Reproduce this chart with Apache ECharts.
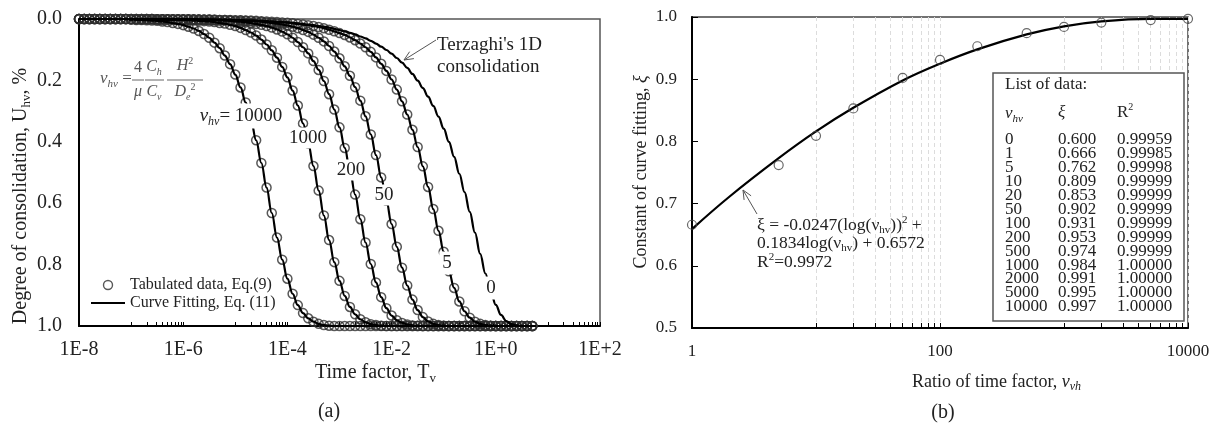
<!DOCTYPE html>
<html>
<head>
<meta charset="utf-8">
<title>Consolidation curves and curve fitting constant</title>
<script src="https://cdn.jsdelivr.net/npm/echarts@6/dist/echarts.min.js"></script>
<style>
html, body { margin: 0; padding: 0; background: #fff; }
#chart { width: 1220px; height: 426px; }
</style>
</head>
<body>
<div id="chart"></div>
<script>
// log10 of time factor Tv for the tabulated points (chart a)
var tvExp = [
    -8, -7.9, -7.8, -7.7, -7.6, -7.5, -7.4, -7.3, -7.2, -7.1,
    -7, -6.9, -6.8, -6.7, -6.6, -6.5, -6.4, -6.3, -6.2, -6.1,
    -6, -5.9, -5.8, -5.7, -5.6, -5.5, -5.4, -5.3, -5.2, -5.1,
    -5, -4.9, -4.8, -4.7, -4.6, -4.5, -4.4, -4.3, -4.2, -4.1,
    -4, -3.9, -3.8, -3.7, -3.6, -3.5, -3.4, -3.3, -3.2, -3.1,
    -3, -2.9, -2.8, -2.7, -2.6, -2.5, -2.4, -2.3, -2.2, -2.1,
    -2, -1.9, -1.8, -1.7, -1.6, -1.5, -1.4, -1.3, -1.2, -1.1,
    -1, -0.9, -0.8, -0.7, -0.6, -0.5, -0.4, -0.3, -0.2, -0.1,
    0, 0.1, 0.2, 0.3, 0.4, 0.5, 0.6, 0.7
];
// degree of consolidation Uhv
var u10000 = [
    0, 0, 0, 0, 0, 0, 0, 0, 0, 0,
    0.002, 0.003, 0.003, 0.004, 0.005, 0.006, 0.008, 0.010, 0.013, 0.016,
    0.020, 0.025, 0.031, 0.039, 0.049, 0.061, 0.077, 0.095, 0.119, 0.147,
    0.181, 0.223, 0.272, 0.329, 0.395, 0.469, 0.549, 0.632, 0.712, 0.784,
    0.846, 0.895, 0.932, 0.958, 0.975, 0.986, 0.993, 0.997, 0.999, 1,
    1, 1, 1, 1, 1, 1, 1, 1, 1, 1,
    1, 1, 1, 1, 1, 1, 1, 1, 1, 1,
    1, 1, 1, 1, 1, 1, 1, 1, 1, 1,
    1, 1, 1, 1, 1, 1, 1, 1
];
var u1000 = [
    0, 0, 0, 0, 0, 0, 0, 0, 0, 0,
    0.001, 0.001, 0.001, 0.001, 0.001, 0.002, 0.002, 0.002, 0.003, 0.003,
    0.003, 0.004, 0.005, 0.006, 0.007, 0.008, 0.010, 0.013, 0.015, 0.019,
    0.023, 0.029, 0.036, 0.044, 0.054, 0.067, 0.083, 0.102, 0.126, 0.156,
    0.190, 0.233, 0.282, 0.340, 0.406, 0.479, 0.559, 0.640, 0.720, 0.792,
    0.853, 0.902, 0.938, 0.962, 0.978, 0.988, 0.994, 0.997, 0.999, 1,
    1, 1, 1, 1, 1, 1, 1, 1, 1, 1,
    1, 1, 1, 1, 1, 1, 1, 1, 1, 1,
    1, 1, 1, 1, 1, 1, 1, 1
];
var u200 = [
    0, 0, 0, 0, 0, 0, 0, 0, 0, 0,
    0, 0, 0, 0, 0, 0.001, 0.001, 0.001, 0.001, 0.001,
    0.002, 0.002, 0.002, 0.002, 0.003, 0.003, 0.004, 0.005, 0.005, 0.006,
    0.008, 0.009, 0.011, 0.013, 0.016, 0.019, 0.023, 0.028, 0.034, 0.041,
    0.050, 0.061, 0.075, 0.092, 0.112, 0.137, 0.166, 0.202, 0.245, 0.295,
    0.353, 0.420, 0.493, 0.572, 0.652, 0.728, 0.798, 0.858, 0.906, 0.942,
    0.966, 0.981, 0.990, 0.995, 0.998, 0.999, 1, 1, 1, 1,
    1, 1, 1, 1, 1, 1, 1, 1, 1, 1,
    1, 1, 1, 1, 1, 1, 1, 1
];
var u50 = [
    0, 0, 0, 0, 0, 0, 0, 0, 0, 0,
    0, 0, 0, 0, 0, 0.001, 0.001, 0.001, 0.001, 0.001,
    0.001, 0.001, 0.002, 0.002, 0.002, 0.002, 0.003, 0.003, 0.003, 0.004,
    0.005, 0.005, 0.006, 0.007, 0.008, 0.009, 0.011, 0.013, 0.015, 0.018,
    0.021, 0.025, 0.030, 0.036, 0.042, 0.051, 0.061, 0.073, 0.088, 0.106,
    0.128, 0.154, 0.185, 0.222, 0.266, 0.317, 0.376, 0.443, 0.516, 0.592,
    0.668, 0.742, 0.810, 0.868, 0.914, 0.948, 0.971, 0.985, 0.993, 0.997,
    0.999, 1, 1, 1, 1, 1, 1, 1, 1, 1,
    1, 1, 1, 1, 1, 1, 1, 1
];
var u5 = [
    0, 0, 0, 0, 0, 0, 0, 0, 0, 0,
    0, 0, 0, 0, 0, 0.001, 0.001, 0.001, 0.001, 0.001,
    0.001, 0.001, 0.001, 0.002, 0.002, 0.002, 0.002, 0.003, 0.003, 0.003,
    0.004, 0.004, 0.005, 0.005, 0.006, 0.007, 0.008, 0.009, 0.010, 0.011,
    0.012, 0.014, 0.016, 0.018, 0.020, 0.023, 0.026, 0.030, 0.035, 0.040,
    0.046, 0.052, 0.060, 0.069, 0.080, 0.092, 0.107, 0.125, 0.146, 0.169,
    0.197, 0.230, 0.268, 0.311, 0.361, 0.417, 0.480, 0.547, 0.619, 0.690,
    0.758, 0.822, 0.876, 0.920, 0.952, 0.973, 0.986, 0.993, 0.997, 0.999,
    1, 1, 1, 1, 1, 1, 1, 1
];
// Terzaghi 1D (vhv = 0), line only
var uTerzaghi = [
    0, 0, 0, 0, 0, 0, 0, 0, 0, 0,
    0, 0, 0, 0, 0, 0.001, 0.001, 0.001, 0.001, 0.001,
    0.001, 0.001, 0.001, 0.002, 0.002, 0.002, 0.002, 0.003, 0.003, 0.003,
    0.004, 0.004, 0.005, 0.005, 0.006, 0.006, 0.007, 0.008, 0.009, 0.010,
    0.011, 0.013, 0.014, 0.016, 0.018, 0.020, 0.023, 0.025, 0.028, 0.032,
    0.036, 0.040, 0.045, 0.050, 0.057, 0.063, 0.071, 0.080, 0.090, 0.101,
    0.113, 0.127, 0.142, 0.159, 0.179, 0.201, 0.225, 0.253, 0.283, 0.318,
    0.357, 0.400, 0.449, 0.504, 0.564, 0.628, 0.696, 0.765, 0.829, 0.886,
    0.931, 0.964, 0.984, 0.994, 0.998, 1, 1, 1
];
var leftLabelValues = [1e-8, 1e-6, 1e-4, 1e-2, 1, 100];

// chart b: list of data
var vhvList = [0, 1, 5, 10, 20, 50, 100, 200, 500, 1000, 2000, 5000, 10000];
var xiList = [0.600, 0.666, 0.762, 0.809, 0.853, 0.902, 0.931, 0.953, 0.974, 0.984, 0.991, 0.995, 0.997];
var r2List = [0.99959, 0.99985, 0.99998, 0.99999, 0.99999, 0.99999, 0.99999, 0.99999, 0.99999, 1.00000, 1.00000, 1.00000, 1.00000];
// fitted curve
var fitV = [1, 2, 5, 10, 20, 50, 100, 200, 500, 1000, 2000, 5000, 10000];
var fitXi = [0.659, 0.711, 0.773, 0.816, 0.854, 0.898, 0.925, 0.948, 0.972, 0.985, 0.993, 0.997, 0.997];
var rightLabelValues = [1, 100, 10000];

var FONT = "'Liberation Serif', 'DejaVu Serif', serif";
var INK = '#222';
var RING = '#2e2e2e';

// minor ticks in the odd decades, like the original log axis
function oddDecadeTicks(decades) {
    var out = [];
    decades.forEach(function (d) {
        for (var m = 1; m <= 10; m++) {
            out.push(m * Math.pow(10, d));
        }
    });
    return out;
}
var leftTicks = oddDecadeTicks([-7, -5, -3, -1, 1]);
var rightTicks = oddDecadeTicks([1, 3]);

function fmtE(v) {
    var e = Math.round(Math.log(v) / Math.LN10);
    return '1E' + (e < 0 ? '-' : '+') + Math.abs(e);
}

function toPairs(u) {
    return tvExp.map(function (e, i) { return [Math.pow(10, e), u[i]]; });
}

function richSet(size, color) {
    return {
        n: { fontFamily: FONT, fontSize: size, fill: color, lineHeight: size + 4 },
        i: { fontFamily: FONT, fontSize: size, fill: color, fontStyle: 'italic', lineHeight: size + 4 },
        s: { fontFamily: FONT, fontSize: Math.round(size * 0.65), fill: color, verticalAlign: 'bottom', lineHeight: Math.round(size * 0.7) },
        is: { fontFamily: FONT, fontSize: Math.round(size * 0.65), fill: color, fontStyle: 'italic', verticalAlign: 'bottom', lineHeight: Math.round(size * 0.7) },
        p: { fontFamily: FONT, fontSize: Math.round(size * 0.6), fill: color, verticalAlign: 'top', lineHeight: Math.round(size * 0.7) }
    };
}

function text(x, y, str, size, opt) {
    opt = opt || {};
    var color = opt.color || INK;
    var style = {
        text: str,
        rich: richSet(size, color),
        fontFamily: FONT,
        fontSize: size,
        fill: color,
        align: opt.align || 'center',
        verticalAlign: opt.valign || 'middle'
    };
    if (opt.bg) {
        style.backgroundColor = '#fff';
        style.padding = opt.pad || [1, 2];
    }
    if (opt.lineHeight) {
        style.lineHeight = opt.lineHeight;
    }
    return { type: 'text', x: x, y: y, rotation: opt.rotation || 0, z: 100, style: style };
}

function arrow(tip, tail) {
    var dx = tail[0] - tip[0], dy = tail[1] - tip[1];
    var len = Math.sqrt(dx * dx + dy * dy);
    var ux = dx / len, uy = dy / len, a = 0.42, L = 10;
    var p1 = [tip[0] + L * (ux * Math.cos(a) - uy * Math.sin(a)), tip[1] + L * (ux * Math.sin(a) + uy * Math.cos(a))];
    var p2 = [tip[0] + L * (ux * Math.cos(-a) - uy * Math.sin(-a)), tip[1] + L * (ux * Math.sin(-a) + uy * Math.cos(-a))];
    return [
        { type: 'line', z: 100, shape: { x1: tail[0], y1: tail[1], x2: tip[0], y2: tip[1] }, style: { stroke: '#555', lineWidth: 1 } },
        { type: 'polyline', z: 100, shape: { points: [p1, tip, p2] }, style: { stroke: '#555', fill: null, lineWidth: 1 } }
    ];
}

var curves = [
    { name: '10000', u: u10000 },
    { name: '1000', u: u1000 },
    { name: '200', u: u200 },
    { name: '50', u: u50 },
    { name: '5', u: u5 }
];

var series = [];
curves.forEach(function (c) {
    var pts = toPairs(c.u);
    series.push({
        type: 'scatter',
        name: 'Tabulated data, Eq.(9)',
        xAxisIndex: 0, yAxisIndex: 0,
        data: pts,
        symbol: 'circle',
        symbolSize: 9,
        clip: false,
        silent: true,
        itemStyle: { color: 'rgba(0,0,0,0)', borderColor: RING, borderWidth: 1.5 },
        z: 2
    });
    series.push({
        type: 'line',
        name: 'Curve Fitting, Eq. (11)',
        xAxisIndex: 0, yAxisIndex: 0,
        data: pts,
        symbol: 'none',
        smooth: 0.4,
        smoothMonotone: 'x',
        clip: false,
        silent: true,
        itemStyle: { color: '#000' },
        lineStyle: { color: '#000', width: 2.2 },
        z: 3
    });
});
series.push({
    type: 'line',
    name: 'Terzaghi',
    xAxisIndex: 0, yAxisIndex: 0,
    data: toPairs(uTerzaghi),
    symbol: 'none',
    smooth: 0.4,
    smoothMonotone: 'x',
    clip: false,
    silent: true,
    itemStyle: { color: '#000' },
    lineStyle: { color: '#000', width: 2.2 },
    z: 3
});
series.push({
    type: 'line',
    name: 'fit b',
    xAxisIndex: 1, yAxisIndex: 1,
    data: fitV.map(function (v, i) { return [v, fitXi[i]]; }),
    symbol: 'none',
    smooth: 0.4,
    clip: false,
    silent: true,
    itemStyle: { color: '#000' },
    lineStyle: { color: '#000', width: 2.2 },
    z: 3
});
series.push({
    type: 'scatter',
    name: 'xi b',
    xAxisIndex: 1, yAxisIndex: 1,
    data: vhvList.map(function (v, i) { return [v, xiList[i]]; }).filter(function (p) { return p[0] > 0; }),
    symbol: 'circle',
    symbolSize: 9,
    clip: false,
    silent: true,
    itemStyle: { color: 'rgba(0,0,0,0)', borderColor: '#444', borderWidth: 1.2 },
    z: 4
});

// annotations
var graphics = [];
graphics.push(text(21, 196, '{n|Degree of consolidation, U}{s|hv}{n|, %}', 20, { rotation: Math.PI / 2 }));
graphics.push(text(315, 373, '{n|Time factor, T}{s|v}', 20, { align: 'left' }));
graphics.push(text(641, 172, '{n|Constant of curve fitting, }{i|ξ}', 18, { rotation: Math.PI / 2 }));
graphics.push(text(912, 382, '{n|Ratio of time factor, }{i|ν}{is|vh}', 18, { align: 'left' }));
graphics.push(text(329, 412, '(a)', 20));
graphics.push(text(943, 413, '(b)', 20));

// curve labels (white box cuts the curve like the original)
graphics.push(text(241, 116, '{i|ν}{is|hv}{n|= 10000}', 19, { bg: true }));
graphics.push(text(308, 138, '1000', 19, { bg: true }));
graphics.push(text(351, 170, '200', 19, { bg: true }));
graphics.push(text(384, 195, '50', 19, { bg: true }));
graphics.push(text(447, 263, '5', 19, { bg: true, pad: [2, 3] }));
graphics.push(text(491, 288, '0', 19, { bg: true, pad: [2, 4] }));

graphics.push(text(437, 45, "Terzaghi's 1D", 19, { align: 'left' }));
graphics.push(text(437, 67, 'consolidation', 19, { align: 'left' }));
graphics = graphics.concat(arrow([404, 60], [436, 40]));

// vhv definition
var GRAY = '#555';
graphics.push(text(100, 79, '{i|ν}{is|hv}{n| =}', 17, { align: 'left', color: GRAY }));
graphics.push(text(138, 68, '4', 16, { color: GRAY }));
graphics.push(text(138, 92, '{i|μ}', 16, { color: GRAY }));
graphics.push(text(154, 67, '{i|C}{is|h}', 16, { color: GRAY }));
graphics.push(text(154, 92, '{i|C}{is|v}', 16, { color: GRAY }));
graphics.push(text(185, 66, '{i|H}{p|2}', 16, { color: GRAY }));
graphics.push(text(185, 92, '{i|D}{is|e}{p|2}', 16, { color: GRAY }));
[[132, 144], [145, 164], [167, 203]].forEach(function (seg) {
    graphics.push({ type: 'line', z: 100, shape: { x1: seg[0], y1: 80, x2: seg[1], y2: 80 }, style: { stroke: GRAY, lineWidth: 0.9 } });
});

// fitted equation in chart b
graphics.push(text(757, 225, '{n|ξ = -0.0247(log(ν}{s|hv}{n|))}{p|2}{n| +}', 17.5, { align: 'left' }));
graphics.push(text(757, 243, '{n|0.1834log(ν}{s|hv}{n|) + 0.6572}', 17.5, { align: 'left' }));
graphics.push(text(757, 262, '{n|R}{p|2}{n|=0.9972}', 17.5, { align: 'left' }));
graphics = graphics.concat(arrow([743, 190], [757, 214]));

// list of data box
graphics.push({ type: 'rect', z: 90, shape: { x: 993, y: 73, width: 191, height: 248 }, style: { fill: '#fff', stroke: '#555', lineWidth: 1.5 } });
graphics.push(text(1005, 85, 'List of data:', 17, { align: 'left' }));
graphics.push(text(1005, 114, '{i|ν}{is|hv}', 17, { align: 'left' }));
graphics.push(text(1058, 113, '{i|ξ}', 17, { align: 'left' }));
graphics.push(text(1117, 113, '{n|R}{p|2}', 17, { align: 'left' }));
graphics.push(text(1005, 133, vhvList.map(String).join('\n'), 17, { align: 'left', valign: 'top', lineHeight: 13.9 }));
graphics.push(text(1058, 133, xiList.map(function (v) { return v.toFixed(3); }).join('\n'), 17, { align: 'left', valign: 'top', lineHeight: 13.9 }));
graphics.push(text(1117, 133, r2List.map(function (v) { return v.toFixed(5); }).join('\n'), 17, { align: 'left', valign: 'top', lineHeight: 13.9 }));

var axisLine = { onZero: false, lineStyle: { color: '#000', width: 2 } };

var option = {
    animation: false,
    backgroundColor: '#fff',
    grid: [
        { left: 79, top: 19, right: 620, bottom: 100, containLabel: false, outerBoundsMode: 'none', show: true, borderColor: '#555', borderWidth: 1.5, backgroundColor: 'transparent' },
        { left: 692, top: 17, right: 32, bottom: 98, containLabel: false, outerBoundsMode: 'none', show: true, borderColor: '#444', borderWidth: 1.5, backgroundColor: 'transparent' }
    ],
    legend: {
        left: 86,
        top: 272,
        orient: 'vertical',
        itemWidth: 34,
        itemHeight: 9,
        itemGap: 2,
        selectedMode: false,
        textStyle: { fontFamily: FONT, fontSize: 16, color: INK, lineHeight: 16 },
        data: [
            { name: 'Tabulated data, Eq.(9)', icon: 'circle', itemStyle: { color: 'rgba(0,0,0,0)', borderColor: RING, borderWidth: 1.4 } },
            { name: 'Curve Fitting, Eq. (11)', icon: 'path://M0,0L34,0L34,2.2L0,2.2Z', itemStyle: { color: '#000', borderWidth: 0 } }
        ]
    },
    xAxis: [
        {
            gridIndex: 0,
            type: 'log',
            logBase: 10,
            min: 1e-8,
            max: 100,
            axisLine: axisLine,
            axisTick: { show: true, inside: true, length: 4, customValues: leftTicks, lineStyle: { color: '#000', width: 1 } },
            minorTick: { show: false },
            axisLabel: { customValues: leftLabelValues, formatter: fmtE, margin: 14, fontFamily: FONT, fontSize: 20, color: INK },
            splitLine: { show: false }
        },
        {
            gridIndex: 1,
            type: 'log',
            logBase: 10,
            min: 1,
            max: 10000,
            axisLine: axisLine,
            axisTick: { show: true, inside: true, length: 5, customValues: rightTicks, lineStyle: { color: '#000', width: 1 } },
            minorTick: { show: false },
            axisLabel: {
                customValues: rightLabelValues,
                formatter: function (v) { return String(Math.round(v)); },
                margin: 15, fontFamily: FONT, fontSize: 17, color: INK
            },
            splitLine: { show: true, lineStyle: { type: [4, 3], color: '#dcdcdc', width: 1 } }
        }
    ],
    yAxis: [
        {
            gridIndex: 0,
            type: 'value',
            min: 0,
            max: 1,
            interval: 0.2,
            inverse: true,
            axisLine: axisLine,
            axisTick: { show: false },
            axisLabel: { formatter: function (v) { return v.toFixed(1); }, margin: 17, fontFamily: FONT, fontSize: 20, color: INK },
            splitLine: { show: false }
        },
        {
            gridIndex: 1,
            type: 'value',
            min: 0.5,
            max: 1.0,
            interval: 0.1,
            axisLine: axisLine,
            axisTick: { show: true, inside: true, length: 6, lineStyle: { color: '#000', width: 1 } },
            axisLabel: { formatter: function (v) { return v.toFixed(1); }, margin: 15, fontFamily: FONT, fontSize: 17, color: INK },
            splitLine: { show: false }
        }
    ],
    graphic: { elements: graphics },
    series: series
};

var chart = echarts.init(document.getElementById('chart'));
chart.setOption(option);
</script>
</body>
</html>
